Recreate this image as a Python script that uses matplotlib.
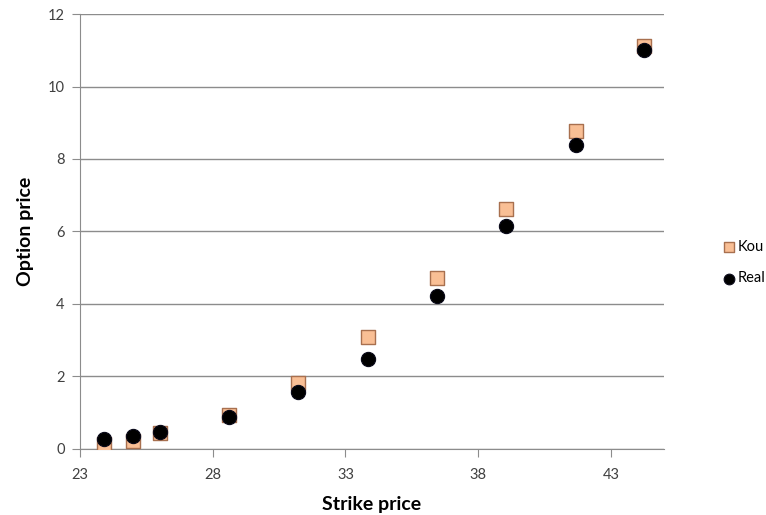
import matplotlib
matplotlib.use('Agg')
import matplotlib.pyplot as plt

plt.rcParams['font.family'] = ['Lato', 'DejaVu Sans']

# strike prices and option prices
strike = [23.9, 25.0, 26.0, 28.6, 31.2, 33.85, 36.45, 39.05, 41.7, 44.25]
kou = [0.14, 0.23, 0.43, 0.95, 1.82, 3.10, 4.71, 6.61, 8.77, 11.12]
real = [0.28, 0.36, 0.46, 0.89, 1.58, 2.47, 4.23, 6.15, 8.39, 11.0]

xticks = [23, 28, 33, 38, 43]
yticks = [0, 2, 4, 6, 8, 10, 12]

fig = plt.figure(figsize=(7.66, 5.15), dpi=100)
ax = fig.add_axes([0.1044, 0.1282, 0.7624, 0.8446])

ax.scatter(strike, kou, marker='s', s=100, facecolor='#f9bf95', edgecolor='#a8704f',
           linewidth=1.0, label='Kou', zorder=3)
ax.scatter(strike, real, marker='o', s=105, facecolor='#000000', edgecolor='#0a0a1a',
           linewidth=0.8, label='Real', zorder=4)

ax.set_xlim(23, 45)
ax.set_ylim(0, 12)
ax.set_xticks(xticks)
ax.set_yticks(yticks)
ax.yaxis.grid(True, color='#8c8c8c', linewidth=1.0)
ax.set_axisbelow(True)

for s in ['top', 'right']:
    ax.spines[s].set_visible(False)
for s in ['left', 'bottom']:
    ax.spines[s].set_color('#8c8c8c')
ax.tick_params(axis='both', colors='#8c8c8c', labelcolor='#404040', labelsize=10.5,
               length=6, direction='out')
ax.tick_params(axis='x', pad=8)
ax.tick_params(axis='y', pad=5)

ax.set_xlabel('Strike price', fontsize=14, fontweight='bold', labelpad=10)
ax.set_ylabel('Option price', fontsize=14, fontweight='bold', labelpad=10)

fig.legend(loc='center left', bbox_to_anchor=(0.935, 0.49), frameon=False,
           fontsize=10.5, handletextpad=0.1, labelspacing=1.2, markerscale=0.75,
           handlelength=1.0, borderaxespad=0)

fig.savefig('out.png', dpi=100)
